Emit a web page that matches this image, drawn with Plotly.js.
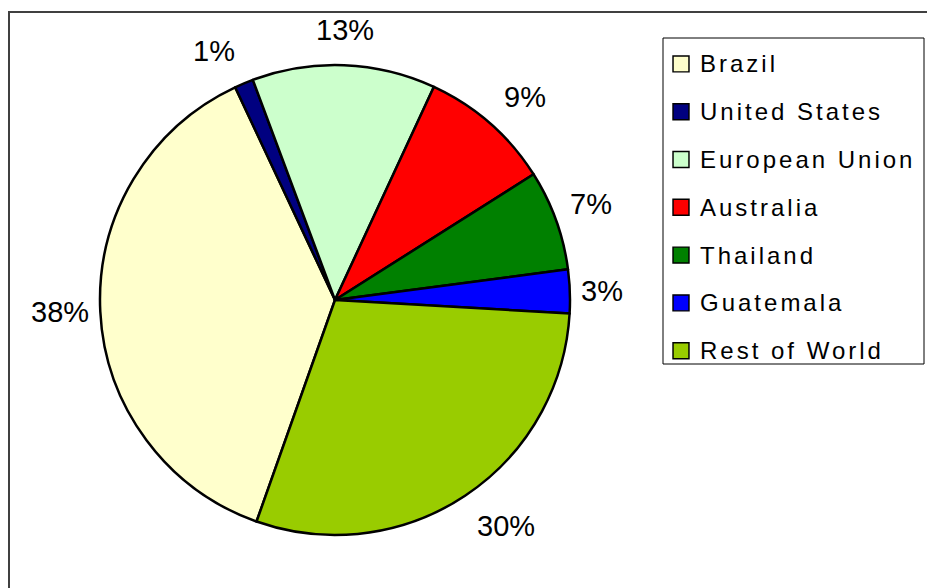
<!DOCTYPE html>
<html>
<head>
<meta charset="utf-8">
<script src="https://cdn.plot.ly/plotly-3.0.1.min.js"></script>
<style>
  html, body { margin: 0; padding: 0; background: #fff; }
  #chart { width: 927px; height: 588px; }
  .legendtext { font-size: 24px !important; letter-spacing: 3px; transform: translate(-1px, -5px); }
  .legendpie { transform: translate(20px, 0px) scale(1.33); stroke-width: 1.1px !important; }
</style>
</head>
<body>
<div id="chart"></div>
<script>
const categories = ["Brazil", "United States", "European Union", "Australia", "Thailand", "Guatemala", "Rest of World"];
const shares = [37.6, 1.3, 12.6, 9.1, 6.9, 3.0, 29.5];
const colors = ["#FFFFCC", "#000080", "#CCFFCC", "#FF0000", "#008000", "#0000FF", "#99CC00"];

const W = 927, H = 588;
const ROTATION = 199.5;
const domX = [100 / W, 570 / W];
const domY = [(H - 535) / H, (H - 65) / H];

const trace = {
  type: "pie",
  labels: categories,
  values: shares,
  sort: false,
  direction: "clockwise",
  rotation: ROTATION,
  marker: { colors: colors, line: { color: "#000000", width: 2.5 } },
  textinfo: "none",
  hoverinfo: "label+percent",
  automargin: false,
  domain: { x: domX, y: domY }
};

// Percentage labels placed Excel-style around the pie, derived from the values
const total = shares.reduce((a, b) => a + b, 0);
const cxPx = (domX[0] + domX[1]) / 2 * W;
const cyPx = (1 - (domY[0] + domY[1]) / 2) * H;
const rPx = Math.min((domX[1] - domX[0]) * W, (domY[1] - domY[0]) * H) / 2;
const annotations = [];
let cum = 0;
shares.forEach((v) => {
  const midDeg = ROTATION + (cum + v / 2) / total * 360;
  cum += v;
  const a = midDeg * Math.PI / 180;
  const s = Math.sin(a), c = Math.cos(a);
  const d = 11 + 13 * Math.abs(c);
  let px = cxPx + (rPx + d) * s;
  let py = cyPx - (rPx + d) * c;
  let xa = "center", ya = "middle";
  if (s > 0.3) { xa = "left"; px -= 2; } else if (s < -0.3) { xa = "right"; px += 2; }
  if (c > 0.3) { ya = "bottom"; py += 7; } else if (c < -0.3) { ya = "top"; py -= 6; }
  annotations.push({
    xref: "paper", yref: "paper", x: px / W, y: 1 - py / H,
    xanchor: xa, yanchor: ya, showarrow: false,
    text: Math.round(v / total * 100) + "%",
    font: { family: "Liberation Sans, Arial, sans-serif", size: 29, color: "#000000" }
  });
});

const layout = {
  width: W,
  height: H,
  margin: { l: 0, r: 0, t: 0, b: 0 },
  paper_bgcolor: "#ffffff",
  showlegend: true,
  legend: {
    x: 661 / W, y: (H - 35) / H, xanchor: "left", yanchor: "top",
    bgcolor: "rgba(0,0,0,0)",
    borderwidth: 0,
    font: { family: "Liberation Sans, Arial, sans-serif", size: 34.46, color: "#000000" },
    traceorder: "normal"
  },
  annotations: annotations,
  shapes: [
    { type: "rect", xref: "paper", yref: "paper",
      x0: 9 / W, x1: 1.05, y0: -0.05, y1: (H - 12) / H,
      line: { color: "#404040", width: 2 }, fillcolor: "rgba(0,0,0,0)" },
    { type: "rect", xref: "paper", yref: "paper",
      x0: 663 / W, x1: 924 / W, y0: (H - 364) / H, y1: (H - 38) / H,
      line: { color: "#000000", width: 1 }, fillcolor: "rgba(0,0,0,0)" }
  ]
};

Plotly.newPlot("chart", [trace], layout, { displayModeBar: false, staticPlot: true });
</script>
</body>
</html>
